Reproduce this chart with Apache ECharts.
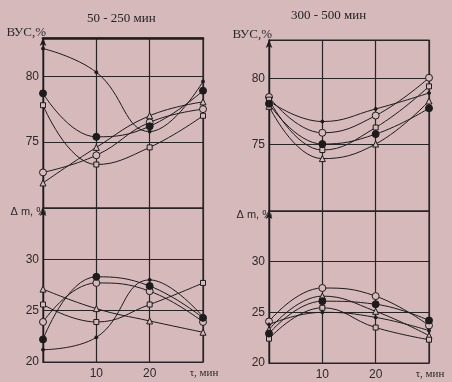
<!DOCTYPE html>
<html><head><meta charset="utf-8">
<script src="https://cdn.jsdelivr.net/npm/echarts@6/dist/echarts.min.js"></script>
<style>html,body{margin:0;padding:0;background:#d6b9bb}#c{width:452px;height:382px}</style>
</head><body><div id="c"></div>
<script>
// ---- data ----
const tau = [0, 10, 20, 30];
const xTickLabels = ['', '10', '20', 'τ, мин'];
const vusTickLabels = [75, 80];
const dmTickLabels = [20, 25, 30];
const panelTitles = ['50 - 250 мин', '300 - 500 мин'];
const vusName = 'ВУС,%';
const dmName = 'Δ m, %';

// left panel (50 - 250 мин), ВУС, %
const vusL_small    = [82.1, 80.3, 75.8, 79.6];
const vusL_filled   = [78.7, 75.4, 76.2, 78.9];
const vusL_square   = [77.8, 73.3, 74.6, 77.0];
const vusL_circle   = [72.7, 74.0, 76.5, 77.5];
const vusL_triangle = [71.9, 74.6, 77.0, 78.05];
// left panel, Δm, %
const dmL_triangle = [27.1, 25.2, 24.0, 22.9];
const dmL_square   = [25.6, 23.9, 25.6, 27.7];
const dmL_circle   = [23.9, 27.7, 26.9, 23.9];
const dmL_filled   = [22.2, 28.3, 27.4, 24.3];
const dmL_small    = [21.2, 22.4, 28.0, 24.4];

// right panel (300 - 500 мин), ВУС, %
const vusR_circle   = [78.6, 75.9, 77.2, 80.05];
const vusR_small    = [78.3, 76.75, 77.7, 78.9];
const vusR_square   = [78.4, 74.6, 76.3, 79.4];
const vusR_filled   = [78.1, 75.05, 75.8, 77.75];
const vusR_triangle = [77.9, 73.95, 75.05, 78.3];
// right panel, Δm, %
const dmR_circle   = [24.1, 27.4, 26.6, 23.7];
const dmR_triangle = [23.3, 26.6, 25.1, 22.7];
const dmR_filled   = [22.9, 26.1, 25.8, 24.2];
const dmR_square   = [22.4, 25.45, 23.5, 22.3];
const dmR_small    = [23.8, 25.0, 24.5, 23.2];

// ---- styles ----
const BG = '#d6b9bb';
const INK = '#1c1c1c';
const GRIDC = '#262626';
const SANS = 'Liberation Sans';
const SERIF = 'Liberation Serif';

const markers = {
  filled:   {symbol: 'circle', size: 7, fill: INK},
  circle:   {symbol: 'circle', size: 7, fill: BG},
  square:   {symbol: 'rect', size: 5, fill: BG},
  triangle: {symbol: 'triangle', size: 6, fill: BG},
  small:    {symbol: 'circle', size: 3, fill: INK}
};

function mk(values, gi, kind) {
  const m = markers[kind];
  return {
    type: 'line', xAxisIndex: gi, yAxisIndex: gi,
    data: tau.map((t, i) => [t, values[i]]),
    smooth: 0.45,
    symbol: m.symbol, symbolSize: m.size,
    lineStyle: {color: INK, width: 1},
    itemStyle: {color: m.fill, borderColor: INK, borderWidth: 1},
    emphasis: {disabled: true},
    z: kind === 'filled' ? 4 : 3
  };
}

const grids = [
  {left: 43, top: 38, width: 160, height: 170},
  {left: 43, top: 208, width: 160, height: 154},
  {left: 269, top: 40, width: 160, height: 171},
  {left: 269, top: 211, width: 160, height: 152}
];

function xAx(gi, showLabels) {
  return {
    type: 'value', gridIndex: gi, min: 0, max: 30, interval: 10,
    axisLine: {show: true, lineStyle: {color: GRIDC, width: 1.2}},
    axisTick: {show: false},
    splitLine: {show: true, lineStyle: {color: GRIDC, width: 1.2}},
    axisLabel: {
      show: showLabels, margin: 6, color: '#2a2a2a', fontFamily: SANS, fontSize: 12,
      formatter: v => {
        const i = tau.indexOf(v);
        if (i < 0) return '';
        return i === tau.length - 1 ? '{s|' + xTickLabels[i] + '}' : xTickLabels[i];
      },
      rich: {s: {fontFamily: SERIF, fontSize: 11, color: '#2a2a2a', padding: [0, 0, 0, 2]}}
    }
  };
}

function yAx(gi, min, max, labels, name, nameGap) {
  return {
    type: 'value', gridIndex: gi, min: min, max: max, interval: 5,
    name: name, nameLocation: 'end', nameGap: nameGap,
    nameTextStyle: {fontFamily: name === vusName ? SERIF : SANS, fontSize: name === vusName ? 13 : 11,
      color: '#2a2a2a', align: 'right', verticalAlign: 'middle', padding: [0, -3, 0, 0]},
    axisLine: {show: true, symbol: ['none', 'arrow'], symbolSize: [5, 8], symbolOffset: [0, 0],
      lineStyle: {color: INK, width: 1.3}},
    axisTick: {show: false},
    splitLine: {show: true, lineStyle: {color: GRIDC, width: 1.2}},
    axisLabel: {
      margin: 4, color: '#2a2a2a', fontFamily: SANS, fontSize: 12,
      formatter: v => labels.indexOf(Math.round(v * 100) / 100) >= 0 ? String(v) : ''
    }
  };
}

const option = {
  backgroundColor: BG,
  animation: false,
  title: [
    {text: panelTitles[0], left: 82, top: 7,
     textStyle: {fontFamily: SERIF, fontSize: 13, fontWeight: 'normal', color: '#222'}},
    {text: panelTitles[1], left: 286, top: 4,
     textStyle: {fontFamily: SERIF, fontSize: 13, fontWeight: 'normal', color: '#222'}}
  ],
  grid: grids.map(g => Object.assign({show: true, borderColor: GRIDC, borderWidth: 1.2,
    backgroundColor: 'transparent'}, g)),
  xAxis: [
    xAx(0, false), xAx(1, true), xAx(2, false), xAx(3, true),
    {type: 'value', gridIndex: 0, position: 'top', min: 0, max: 30, show: true,
     axisLine: {show: true, lineStyle: {color: INK, width: 2.6}},
     axisTick: {show: false}, axisLabel: {show: false}, splitLine: {show: false}}
  ],
  yAxis: [
    yAx(0, 70, 82.9, vusTickLabels, vusName, 5),
    yAx(1, 20, 35, dmTickLabels, dmName, -4),
    yAx(2, 70, 82.9, vusTickLabels, vusName, 5),
    yAx(3, 20, 35, dmTickLabels, dmName, -4)
  ],
  series: [
    mk(vusL_small, 0, 'small'), mk(vusL_filled, 0, 'filled'), mk(vusL_square, 0, 'square'),
    mk(vusL_circle, 0, 'circle'), mk(vusL_triangle, 0, 'triangle'),
    mk(dmL_triangle, 1, 'triangle'), mk(dmL_square, 1, 'square'), mk(dmL_circle, 1, 'circle'),
    mk(dmL_filled, 1, 'filled'), mk(dmL_small, 1, 'small'),
    mk(vusR_circle, 2, 'circle'), mk(vusR_small, 2, 'small'), mk(vusR_square, 2, 'square'),
    mk(vusR_filled, 2, 'filled'), mk(vusR_triangle, 2, 'triangle'),
    mk(dmR_circle, 3, 'circle'), mk(dmR_triangle, 3, 'triangle'), mk(dmR_filled, 3, 'filled'),
    mk(dmR_square, 3, 'square'), mk(dmR_small, 3, 'small')
  ]
};

const chart = echarts.init(document.getElementById('c'), null, {renderer: 'canvas'});
chart.setOption(option);
</script>
</body></html>
